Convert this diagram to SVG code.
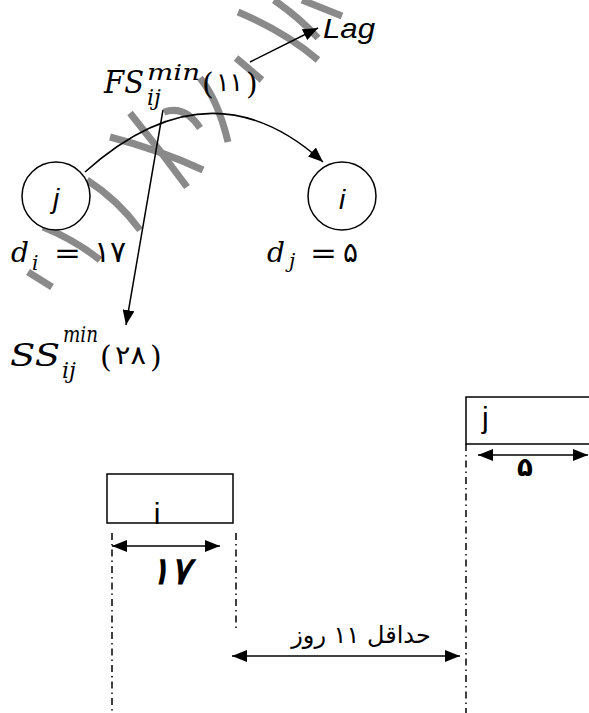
<svg xmlns="http://www.w3.org/2000/svg" width="589" height="713" viewBox="0 0 589 713">
<style>
.ln{stroke:#000;stroke-width:1.5;fill:none}
.box{stroke:#000;stroke-width:1.5;fill:#fff}
.dd{stroke:#000;stroke-width:1.5;fill:none;stroke-dasharray:7 4 1.5 4}
.math{font-family:"DejaVu Serif","Liberation Serif",serif;font-style:italic;fill:#000}
.up{font-family:"DejaVu Serif","Liberation Serif",serif;fill:#000}
.fa{font-family:"DejaVu Sans","Noto Sans",sans-serif;fill:#000}
.lbl{font-family:"Liberation Sans","Open Sans",sans-serif;fill:#000}
.wm{stroke:#8a8a8a;stroke-width:7;fill:none;stroke-linecap:butt}
</style>
<defs>
<marker id="ah" markerUnits="userSpaceOnUse" markerWidth="16" markerHeight="12" refX="15" refY="6" orient="auto-start-reverse">
<path d="M0,0 L15,6 L0,12 Z" fill="#000"/>
</marker>
</defs>
<g id="watermark">
<path class="wm" d="M238,12 Q285,32 318,60"/>
<path class="wm" d="M274,0 Q300,18 318,38"/>
<path class="wm" d="M302,0 L342,16"/>
<path class="wm" d="M236,58 L262,80"/>
<path class="wm" d="M200,78 Q218,100 228,142"/>
<path class="wm" d="M164,112 Q185,105 200,128"/>
<path class="wm" d="M130,113 Q160,150 187,187"/>
<path class="wm" d="M110,137 Q160,150 203,170"/>
<path class="wm" d="M87,180 Q118,200 140,230"/>
<path class="wm" d="M43,227 Q75,240 100,260"/>
<path class="wm" d="M28,272 L52,287"/>
</g>
<g id="connectors">
<path class="ln" d="M250,62 L318,28" marker-end="url(#ah)"/>
<path class="ln" d="M85,172 Q210,60 323,162" marker-end="url(#ah)"/>
<path class="ln" d="M163,110 L126,325" marker-end="url(#ah)"/>
<path class="ln" d="M112,546 L220,546" marker-start="url(#ah)" marker-end="url(#ah)"/>
<path class="ln" d="M478,455 L588,455" marker-start="url(#ah)" marker-end="url(#ah)"/>
<path class="ln" d="M232,656 L460,656" marker-start="url(#ah)" marker-end="url(#ah)"/>
<path class="dd" d="M112,533 L112,713"/>
<path class="dd" d="M236,533 L236,628"/>
<path class="dd" d="M466,444 L466,713"/>
</g>
<g id="lag">
<text class="lbl" x="323" y="38" font-size="28" font-style="italic" textLength="52" lengthAdjust="spacingAndGlyphs">Lag</text>
</g>
<g id="fs">
<text class="math" x="104" y="93" font-size="32" textLength="40" lengthAdjust="spacingAndGlyphs">FS</text>
<text class="math" x="147" y="80" font-size="22" textLength="53" lengthAdjust="spacingAndGlyphs">min</text>
<text class="math" x="147" y="105" font-size="22">ij</text>
<text class="up" x="202" y="94" font-size="30">(</text>
<text class="fa" x="216" y="91" font-size="26" textLength="27" lengthAdjust="spacingAndGlyphs">۱۱</text>
<text class="up" x="246" y="94" font-size="30">)</text>
</g>
<g id="node-j">
<circle cx="56" cy="196" r="34" class="box"/>
<text class="lbl" x="56" y="208" font-size="28" font-style="italic" text-anchor="middle">j</text>
</g>
<g id="node-i">
<circle cx="342" cy="196" r="34" class="box"/>
<text class="lbl" x="342" y="209" font-size="28" font-style="italic" text-anchor="middle">i</text>
</g>
<g id="di">
<text class="math" x="11" y="262" font-size="28">d</text>
<text class="math" x="32" y="270" font-size="20">i</text>
<text class="up" x="54" y="263" font-size="30" textLength="27" lengthAdjust="spacingAndGlyphs">=</text>
<text class="fa" x="94" y="262" font-size="30">۱۷</text>
</g>
<g id="dj">
<text class="math" x="267" y="262" font-size="28">d</text>
<text class="math" x="289" y="268" font-size="20">j</text>
<text class="up" x="310" y="263" font-size="30" textLength="27" lengthAdjust="spacingAndGlyphs">=</text>
<text class="fa" x="343" y="262" font-size="28">۵</text>
</g>
<g id="ss">
<text class="math" x="10" y="366" font-size="31" textLength="50" lengthAdjust="spacingAndGlyphs">SS</text>
<text class="math" x="63" y="342" font-size="22" textLength="35" lengthAdjust="spacingAndGlyphs">min</text>
<text class="math" x="62" y="378" font-size="22">ij</text>
<text class="up" x="100" y="367" font-size="30">(</text>
<text class="fa" x="115" y="364" font-size="26" textLength="31" lengthAdjust="spacingAndGlyphs">۲۸</text>
<text class="up" x="150" y="367" font-size="30">)</text>
</g>
<g id="bar-i">
<rect x="107" y="474" width="126" height="49" class="box"/>
<text class="lbl" x="157" y="524" font-size="30" text-anchor="middle">i</text>
<text class="fa" x="170" y="584" font-size="38" font-weight="bold" font-style="italic" text-anchor="middle">۱۷</text>
</g>
<g id="bar-j">
<rect x="466" y="397" width="130" height="47" class="box"/>
<text class="lbl" x="482" y="428" font-size="30">j</text>
<text class="fa" x="525" y="476" font-size="26" font-weight="bold" text-anchor="middle">۵</text>
</g>
<g id="gap-label">
<text class="fa" x="361" y="643" font-size="24" text-anchor="middle">حداقل ۱۱ روز</text>
</g>
</svg>
